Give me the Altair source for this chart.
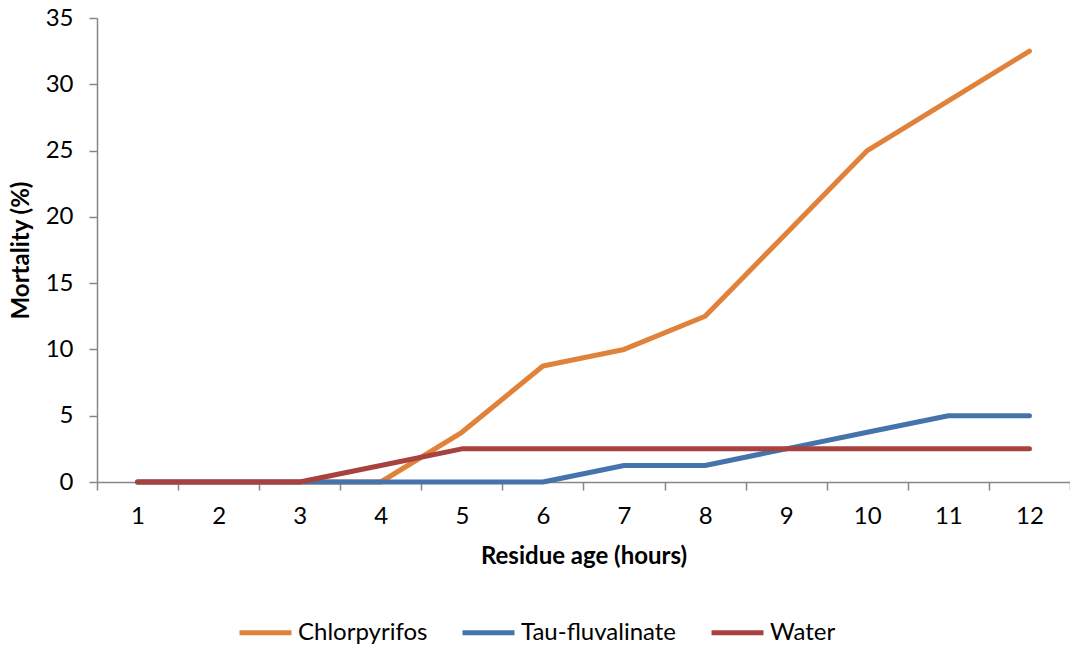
import altair as alt
import pandas as pd

hours = list(range(1, 13))
chlorpyrifos = [0, 0, 0, 0, 3.75, 8.75, 10, 12.5, 18.75, 25, 28.75, 32.5]
tau_fluvalinate = [0, 0, 0, 0, 0, 0, 1.25, 1.25, 2.5, 3.75, 5, 5]
water = [0, 0, 0, 1.25, 2.5, 2.5, 2.5, 2.5, 2.5, 2.5, 2.5, 2.5]

series_names = ["Chlorpyrifos", "Tau-fluvalinate", "Water"]
series_colors = ["#E0823A", "#4573AB", "#A8423F"]

rows = []
for order, (name, vals) in enumerate(zip(series_names, [chlorpyrifos, tau_fluvalinate, water])):
    for h, v in zip(hours, vals):
        rows.append({"hour": str(h), "mortality": v, "series": name, "order": order})
df = pd.DataFrame(rows)

FONT = "Lato"

chart = alt.Chart(df).mark_line(strokeWidth=5, strokeCap="round", strokeJoin="round").encode(
    x=alt.X(
        "hour:O",
        sort=[str(h) for h in hours],
        bandPosition=0.5,
        scale=alt.Scale(type="band", paddingInner=0, paddingOuter=0),
        axis=alt.Axis(
            title="Residue age (hours)",
            tickBand="extent",
            labelAngle=0,
            labelFontSize=24,
            labelPadding=14,
            titleFontSize=24,
            titleFontWeight="bold",
            titlePadding=16,
        ),
    ),
    y=alt.Y(
        "mortality:Q",
        scale=alt.Scale(domain=[0, 35], nice=False),
        axis=alt.Axis(
            title="Mortality (%)",
            values=[0, 5, 10, 15, 20, 25, 30, 35],
            labelFontSize=24,
            labelPadding=16,
            titleFontSize=24,
            titleFontWeight="bold",
            titlePadding=12,
            grid=False,
        ),
    ),
    color=alt.Color(
        "series:N",
        sort=series_names,
        scale=alt.Scale(domain=series_names, range=series_colors),
        legend=alt.Legend(
            title=None,
            orient="none",
            direction="horizontal",
            legendX=140,
            legendY=586,
            symbolType="stroke",
            symbolSize=2700,
            symbolStrokeWidth=5,
            labelFontSize=24,
            labelOffset=4,
            columnPadding=24,
        ),
    ),
    order=alt.Order("order:Q"),
).properties(
    width=973,
    height=464,
    padding={"left": 97, "top": 18, "right": 0, "bottom": 164},
    autosize=alt.AutoSizeParams(type="none"),
).configure_axis(
    domainColor="#868686",
    tickColor="#868686",
    domainWidth=1.5,
    tickWidth=1.5,
    tickSize=8,
    labelColor="#000000",
    titleColor="#000000",
    labelFont=FONT,
    titleFont=FONT,
).configure_legend(
    labelFont=FONT,
    labelColor="#000000",
).configure_view(stroke=None)

chart.save("out.html", embed_options={"renderer": "svg", "actions": False})
